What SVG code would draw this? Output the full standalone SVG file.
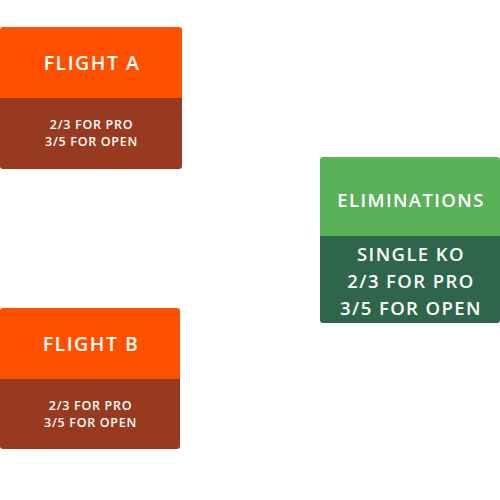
<svg xmlns="http://www.w3.org/2000/svg" width="500" height="500" viewBox="0 0 500 500">
<style>
.t{font-family:"Open Sans","Liberation Sans",sans-serif;font-weight:600;fill:#ffffff;text-anchor:middle}
.h{font-size:19.5px;letter-spacing:1.5px}
.s{font-size:12.5px;letter-spacing:0.7px}
.e{font-size:18.5px;letter-spacing:1.4px}
.or{fill:#FF5000}
.br{fill:#983A1F}
.gr{fill:#5BB05A}
.dg{fill:#2E654B}
</style>
<rect width="500" height="500" fill="#ffffff"/>
<g id="connectors"></g>
<g id="flightA">
<rect class="or" x="0" y="27" width="182" height="76" rx="3"/>
<rect class="br" x="0" y="98" width="182" height="71" rx="3"/>
<rect class="br" x="0" y="98" width="182" height="6"/>
<text class="t h" x="92" y="70">FLIGHT A</text>
<text class="t s" x="91.5" y="129">2/3 FOR PRO</text>
<text class="t s" x="91.5" y="146">3/5 FOR OPEN</text>
</g>
<g id="flightB">
<rect class="or" x="0" y="308" width="180" height="76" rx="3"/>
<rect class="br" x="0" y="379" width="180" height="70" rx="3"/>
<rect class="br" x="0" y="379" width="180" height="6"/>
<text class="t h" x="91" y="351">FLIGHT B</text>
<text class="t s" x="90.5" y="410">2/3 FOR PRO</text>
<text class="t s" x="90.5" y="427">3/5 FOR OPEN</text>
</g>
<g id="eliminations">
<rect class="gr" x="320" y="157" width="180" height="84" rx="3"/>
<rect class="dg" x="320" y="236" width="180" height="87" rx="3"/>
<rect class="dg" x="320" y="236" width="180" height="6"/>
<text class="t e" x="411" y="207">ELIMINATIONS</text>
<text class="t e" x="411" y="261">SINGLE KO</text>
<text class="t e" x="411" y="288">2/3 FOR PRO</text>
<text class="t e" x="411" y="315">3/5 FOR OPEN</text>
</g>
</svg>
